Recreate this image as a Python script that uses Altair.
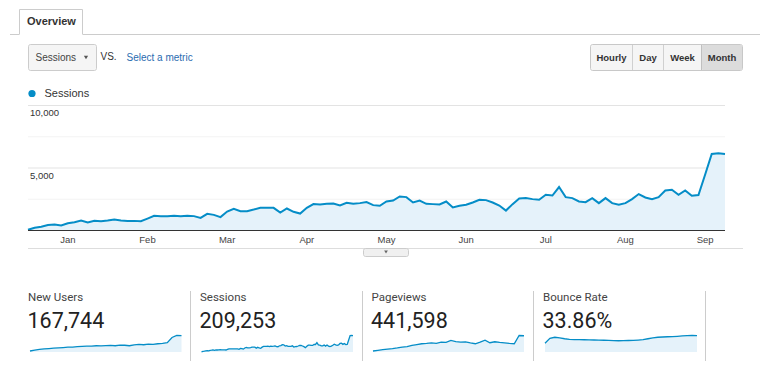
import altair as alt
import pandas as pd

# ---------------- data ----------------
sessions = [60, 225, 305, 440, 475, 395, 585, 665, 795, 635, 770, 745, 795, 875, 795, 770,
            770, 745, 955, 1170, 1150, 1150, 1170, 1150, 1170, 1150, 1010, 1330, 1250, 1070,
            1515, 1735, 1550, 1550, 1675, 1815, 1815, 1815, 1435, 1760, 1495, 1355, 1815, 2110,
            2080, 2135, 2160, 2000, 2215, 2135, 2190, 2270, 2030, 1975, 2320, 2400, 2720, 2670,
            2240, 2400, 2135, 2110, 2080, 2320, 1840, 1975, 2055, 2240, 2455, 2430, 2240, 2000,
            1595, 2110, 2560, 2590, 2510, 2455, 2855, 2800, 3475, 2670, 2590, 2320, 2270, 2590,
            2190, 2590, 2190, 2055, 2190, 2510, 2915, 2640, 2510, 2670, 3200, 3260, 2855, 3200,
            2775, 2835, 4460, 6125, 6170, 6125]

month_labels = ["Jan", "Feb", "Mar", "Apr", "May", "Jun", "Jul", "Aug", "Sep"]
month_pos = [6, 18, 30, 42, 54, 66, 78, 90, 102]   # point index where each month label sits
y_major = [5000, 10000]
y_minor = [2500, 7500]

card_names = ["New Users", "Sessions", "Pageviews", "Bounce Rate"]
card_totals = ["167,744", "209,253", "441,598", "33.86%"]

new_users_spark = [300, 600, 800, 950, 1050, 1150, 1250, 1350, 1450, 1500, 1600, 1700, 1750,
                   1800, 1900, 1850, 1950, 2000, 1900, 2100, 2050, 1900, 2150, 2300, 2200, 2400,
                   2300, 2500, 2600, 2800, 4400, 5000, 4950]
pageviews_spark = [800, 1300, 1800, 2300, 2700, 3250, 3900, 4300, 5200, 5850, 6500, 6750, 7150,
                   6750, 7800, 7550, 9100, 8200, 7800, 8050, 7150, 6500, 7800, 9350, 7300, 8050,
                   7550, 7150, 6750, 6500, 13000, 12800]
bounce_spark = [23.5, 36.5, 39.5, 38.0, 35.5, 34.0, 33.2, 33.0, 32.8, 32.5, 32.2, 32.0, 31.5,
                31.0, 30.5, 30.2, 30.3, 30.8, 31.2, 32.0, 33.0, 35.5, 38.0, 39.5, 40.2, 40.8,
                41.2, 42.0, 43.0, 43.8, 44.2, 43.8]

# ---------------- helpers ----------------
OFF = 8
one = pd.DataFrame({"k": [0]})
AR = "Liberation Sans"
RB = "Roboto"
BLUE = "#058dc7"
FILL = "#e5f2fa"


def T(s, x, y, size=10, color="#333333", weight="normal", align="left", font=AR):
    return alt.Chart(one).mark_text(
        text=s, fontSize=size, color=color, fontWeight=weight, align=align,
        baseline="middle", font=font
    ).encode(x=alt.value(x - OFF), y=alt.value(y - OFF))


def R(x1, x2, y1, y2, fill, stroke=None, sw=1, cr=0):
    kw = dict(fill=fill, cornerRadius=cr)
    if stroke:
        kw.update(stroke=stroke, strokeWidth=sw)
    return alt.Chart(one).mark_rect(**kw).encode(
        x=alt.value(x1 - OFF), x2=alt.value(x2 - OFF),
        y=alt.value(y1 - OFF), y2=alt.value(y2 - OFF))


def L(x1, x2, y1, y2, color, sw=1):
    return alt.Chart(one).mark_rule(color=color, strokeWidth=sw).encode(
        x=alt.value(x1 - OFF), x2=alt.value(x2 - OFF),
        y=alt.value(y1 - OFF), y2=alt.value(y2 - OFF))


def P(x, y, shape, size, color):
    return alt.Chart(one).mark_point(shape=shape, size=size, filled=True, color=color,
                                     opacity=1).encode(
        x=alt.value(x - OFF), y=alt.value(y - OFF))


layers = []

# ---------------- header UI ----------------
layers += [
    L(10, 19.5, 34.5, 34.5, "#cccccc"),
    L(82.5, 762, 34.5, 34.5, "#cccccc"),
    R(19.5, 82.5, 9.5, 35, "#ffffff"),
    L(19.5, 82.5, 9.5, 9.5, "#cccccc"),
    L(19.5, 19.5, 9.5, 34.5, "#cccccc"),
    L(82.5, 82.5, 9.5, 34.5, "#cccccc"),
    T("Overview", 27, 22, size=11, weight="bold", color="#333333"),
    R(28.5, 96.5, 44.5, 70.5, "#f5f5f5", stroke="#cccccc", cr=2),
    T("Sessions", 35.5, 58, size=10, color="#444444"),
    P(86, 57.5, "triangle-down", 18, "#555555"),
    T("VS.", 100.5, 56.5, size=10, color="#333333"),
    T("Select a metric", 126.5, 58, size=10, color="#2a6bb0"),
    R(590.5, 742.5, 44.5, 70.5, "#f5f5f5", stroke="#c8c8c8", cr=2),
    R(702, 742, 45, 70, "#dcdcdc", cr=1),
    L(632.5, 632.5, 45, 70, "#d0d0d0"),
    L(663.5, 663.5, 45, 70, "#d0d0d0"),
    L(701.5, 701.5, 45, 70, "#c0c0c0"),
    T("Hourly", 611.5, 58, size=9.5, weight="bold", align="center"),
    T("Day", 648, 58, size=9.5, weight="bold", align="center"),
    T("Week", 682.5, 58, size=9.5, weight="bold", align="center"),
    T("Month", 722, 58, size=9.5, weight="bold", align="center"),
    P(32, 93.5, "circle", 52, BLUE),
    T("Sessions", 44.5, 94, size=11, color="#333333"),
]

# ---------------- main chart ----------------
n = len(sessions)
df = pd.DataFrame({"i": list(range(n)), "v": sessions})
xs = alt.Scale(domain=[0, n - 1], range=[28 - OFF, 725 - OFF], nice=False, zero=False)
ys = alt.Scale(domain=[0, 10000], range=[230.5 - OFF, 105.5 - OFF], nice=False, zero=False)

minor = alt.Chart(pd.DataFrame({"g": y_minor})).mark_rule(color="#f3f3f3").encode(
    y=alt.Y("g:Q", scale=ys, axis=None), x=alt.value(28 - OFF), x2=alt.value(725 - OFF))
major = alt.Chart(pd.DataFrame({"g": y_major})).mark_rule(color="#e3e3e3").encode(
    y=alt.Y("g:Q", scale=ys, axis=None), x=alt.value(28 - OFF), x2=alt.value(725 - OFF))
area = alt.Chart(df).mark_area(color=FILL, opacity=1).encode(
    x=alt.X("i:Q", scale=xs, axis=None), y=alt.Y("v:Q", scale=ys, axis=None))
line = alt.Chart(df).mark_line(color=BLUE, strokeWidth=2).encode(
    x=alt.X("i:Q", scale=xs, axis=None), y=alt.Y("v:Q", scale=ys, axis=None))
base = alt.Chart(pd.DataFrame({"g": [0]})).mark_rule(color="#333333").encode(
    y=alt.Y("g:Q", scale=ys, axis=None), x=alt.value(28 - OFF), x2=alt.value(725 - OFF))
ylab = alt.Chart(pd.DataFrame({"g": y_major})).mark_text(
    align="left", baseline="middle", dy=7.5, fontSize=9.5, font=AR, color="#333333"
).encode(y=alt.Y("g:Q", scale=ys, axis=None), x=alt.value(30 - OFF),
         text=alt.Text("g:Q", format=","))
mlab = alt.Chart(pd.DataFrame({"m": month_labels, "p": month_pos})).mark_text(
    align="center", baseline="middle", fontSize=9.5, font=AR, color="#444444"
).encode(x=alt.X("p:Q", scale=xs, axis=None), y=alt.value(240 - OFF), text="m:N")

layers += [minor, major, area, line, base, ylab, mlab]

layers += [
    L(28, 743, 248.5, 248.5, "#dddddd"),
    R(363.5, 408.5, 248.5, 256.5, "#f0f0f0", stroke="#cccccc", cr=2),
    P(386, 252, "triangle-down", 14, "#666666"),
]

# ---------------- scorecards ----------------
card_x = [28, 200, 371.5, 543]
spark_x = [(30, 181.5), (201.5, 353), (373, 524), (545, 697)]
spark_data = [new_users_spark, sessions, pageviews_spark, bounce_spark]

for name, total, cx, (sx1, sx2), vals in zip(card_names, card_totals, card_x, spark_x, spark_data):
    layers.append(T(name, cx, 298, size=11.5, color="#444444", font=RB))
    layers.append(T(total, cx - 0.5, 322, size=21.5, color="#222222", font=RB))
    sdf = pd.DataFrame({"i": list(range(len(vals))), "v": vals})
    sxs = alt.Scale(domain=[0, len(vals) - 1], range=[sx1 - OFF, sx2 - OFF], nice=False, zero=False)
    sys_ = alt.Scale(domain=[0, max(vals)], range=[352 - OFF, 335.5 - OFF], nice=False, zero=False)
    layers.append(alt.Chart(sdf).mark_area(color=FILL, opacity=1).encode(
        x=alt.X("i:Q", scale=sxs, axis=None), y=alt.Y("v:Q", scale=sys_, axis=None)))
    layers.append(alt.Chart(sdf).mark_line(color=BLUE, strokeWidth=1.3).encode(
        x=alt.X("i:Q", scale=sxs, axis=None), y=alt.Y("v:Q", scale=sys_, axis=None)))

for sx in [190.5, 362.5, 533.5, 705.5]:
    layers.append(L(sx, sx, 291, 361, "#cccccc"))

chart = alt.layer(*layers).resolve_scale(
    x="independent", y="independent"
).properties(
    width=752, height=369,
    autosize=alt.AutoSizeParams(type="none"),
    padding=0,
    background="white",
).configure_view(stroke=None)

chart.save("out.html", embed_options={"renderer": "svg", "actions": False})
